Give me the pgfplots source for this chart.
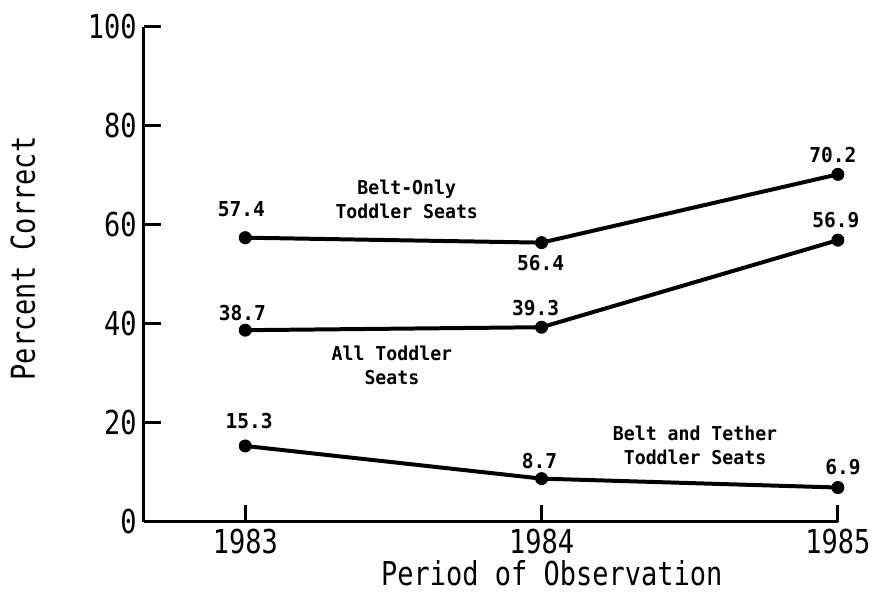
\documentclass[border=0pt]{standalone}
\usepackage{fontspec}
\setmainfont{DejaVu Sans Mono}[FakeStretch=0.82]
\newfontfamily\lblfont{DejaVu Sans Mono}[FakeStretch=0.95]
\usepackage{pgfplots}
\pgfplotsset{compat=1.18}
\begin{document}
\begin{tikzpicture}
\begin{axis}[
  scale only axis,
  width=348pt, height=248pt,
  xmin=1982.657, xmax=1985,
  ymin=0, ymax=100,
  axis lines=left,
  axis line style={-, line width=1.5pt},
  xtick={1983,1984,1985},
  ytick={0,20,40,60,80,100},
  tick align=inside,
  major tick length=8.5pt,
  tick style={line width=1.5pt, black},
  /pgf/number format/assume math mode=true,
  xticklabel style={/pgf/number format/1000 sep={}, font=\fontsize{16.5}{18}\selectfont},
  yticklabel style={font=\fontsize{16.5}{18}\selectfont},
  xticklabels={1983,1984,1985},
  xlabel={Period of Observation},
  ylabel={Percent Correct},
  xlabel style={font=\fontsize{16.5}{18}\selectfont, at={(axis description cs:0.588,-0.105)}, anchor=center},
  ylabel style={font=\fontsize{16.5}{18}\selectfont, at={(axis description cs:-0.174,0.532)}, anchor=center},
  clip=false,
]
\addplot[black, line width=2pt, mark=*, mark size=3pt, mark options={line width=0.5pt}] coordinates {(1983,57.4) (1984,56.4) (1985,70.2)};
\addplot[black, line width=2pt, mark=*, mark size=3pt, mark options={line width=0.5pt}] coordinates {(1983,38.7) (1984,39.3) (1985,56.9)};
\addplot[black, line width=2pt, mark=*, mark size=3pt, mark options={line width=0.5pt}] coordinates {(1983,15.3) (1984,8.7) (1985,6.9)};
\tikzset{vl/.style={font=\lblfont\bfseries\fontsize{10.3}{12}\selectfont, inner sep=0pt}}
\node[vl] at (axis cs:1982.987,63.1) {57.4};
\node[vl] at (axis cs:1983.997,52.2) {56.4};
\node[vl] at (axis cs:1984.983,74.2) {70.2};
\node[vl] at (axis cs:1982.99,42.1) {38.7};
\node[vl] at (axis cs:1983.98,43.1) {39.3};
\node[vl] at (axis cs:1984.993,60.9) {56.9};
\node[vl] at (axis cs:1983.013,20.4) {15.3};
\node[vl] at (axis cs:1983.993,12.3) {8.7};
\node[vl] at (axis cs:1985.017,11.1) {6.9};
\tikzset{an/.style={font=\lblfont\bfseries\fontsize{9.6}{12}\selectfont, align=center, inner sep=0pt}}
\node[an] at (axis cs:1983.545,65.1) {Belt-Only\\Toddler Seats};
\node[an] at (axis cs:1983.495,31.5) {All Toddler\\Seats};
\node[an] at (axis cs:1984.518,15.5) {Belt and Tether\\Toddler Seats};
\end{axis}
\path ([shift={(-72pt,-42.5pt)}]current axis.south west) rectangle ([shift={(366.5pt,261.5pt)}]current axis.south west);
\end{tikzpicture}
\end{document}
